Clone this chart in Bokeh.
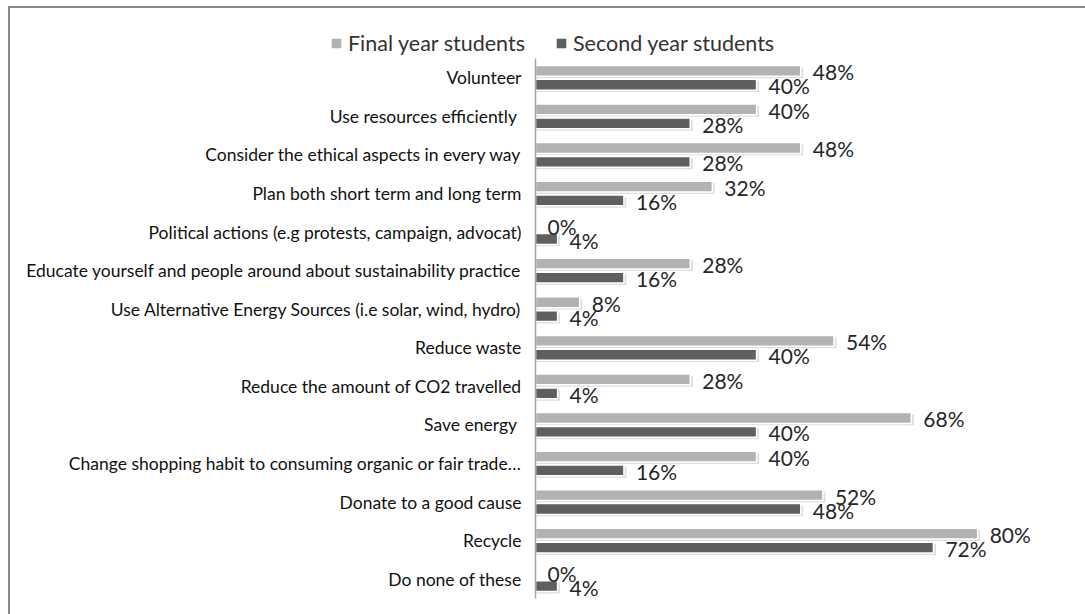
from bokeh.plotting import figure
from bokeh.layouts import column
from bokeh.models import ColumnDataSource, FactorRange, Range1d, Legend, LegendItem
from bokeh.transform import dodge
from bokeh.core.properties import value
from bokeh.embed import file_html
from bokeh.resources import INLINE

# ---- data (top to bottom as in the chart) ----
categories = [
    "Volunteer",
    "Use resources efficiently ",
    "Consider the ethical aspects in every way",
    "Plan both short term and long term",
    "Political actions (e.g protests, campaign, advocat)",
    "Educate yourself and people around about sustainability practice",
    "Use Alternative Energy Sources (i.e solar, wind, hydro)",
    "Reduce waste",
    "Reduce the amount of CO2 travelled",
    "Save energy ",
    "Change shopping habit to consuming organic or fair trade\u2026",
    "Donate to a good cause",
    "Recycle",
    "Do none of these",
]
final_year = [48, 40, 48, 32, 0, 28, 8, 54, 28, 68, 40, 52, 80, 0]
second_year = [40, 28, 28, 16, 4, 16, 4, 40, 4, 40, 16, 48, 72, 4]
series_names = ["Final year students", "Second year students"]

FINAL_COLOR = "#b2b2b2"
SECOND_COLOR = "#5f5f5f"
FONT = "Lato"

src = ColumnDataSource(dict(
    cat=categories,
    final=final_year,
    second=second_year,
    final_sh=[v + 0.45 if v > 0 else 0 for v in final_year],
    second_sh=[v + 0.45 if v > 0 else 0 for v in second_year],
    final_lbl=[f"{v}%" for v in final_year],
    second_lbl=[f"{v}%" for v in second_year],
))

# ---------------- main chart ----------------
p = figure(
    width=1075, height=556,
    y_range=FactorRange(factors=categories[::-1], range_padding=0),
    x_range=Range1d(0, 96.8),
    output_backend="svg", toolbar_location=None,
    min_border_left=525, min_border_right=15, min_border_top=0, min_border_bottom=16,
)
p.outline_line_color = None
p.xgrid.grid_line_color = None
p.ygrid.grid_line_color = None
p.xaxis.visible = False
p.background_fill_color = "white"
p.border_fill_color = "white"

ya = p.yaxis[0]
ya.axis_line_color = "#a6a6a6"
ya.axis_line_width = 1.5
ya.major_tick_line_color = None
ya.minor_tick_line_color = None
ya.major_tick_in = 0
ya.major_tick_out = 0
ya.major_label_standoff = 14
ya.major_label_text_font = FONT
ya.major_label_text_font_size = "17.5px"
ya.major_label_text_color = "#111111"

OFF = 0.18
H = 0.28

# soft shadows
p.hbar(y=dodge("cat", OFF - 0.05, range=p.y_range), left=0, right="final_sh", height=H,
       fill_color="#c8c8c8", fill_alpha=0.6, line_color=None, source=src)
p.hbar(y=dodge("cat", -OFF - 0.05, range=p.y_range), left=0, right="second_sh", height=H,
       fill_color="#c8c8c8", fill_alpha=0.6, line_color=None, source=src)

p.hbar(y=dodge("cat", OFF, range=p.y_range), left=0, right="final", height=H,
       fill_color=FINAL_COLOR, line_color="white", line_width=1.5, source=src)
p.hbar(y=dodge("cat", -OFF, range=p.y_range), left=0, right="second", height=H,
       fill_color=SECOND_COLOR, line_color="white", line_width=1.5, source=src)

for col, lbl, off in (("final", "final_lbl", OFF), ("second", "second_lbl", -OFF)):
    p.text(x=col, y=dodge("cat", off, range=p.y_range), text=lbl, source=src,
           x_offset=12, y_offset=1, text_align="left", text_baseline="middle",
           text_font=value(FONT), text_font_size="21px", text_color="#262626")

# ---------------- legend strip ----------------
lg = figure(
    width=1075, height=50,
    y_range=FactorRange(factors=categories[::-1]), x_range=Range1d(0, 100),
    output_backend="svg", toolbar_location=None,
    min_border_left=0, min_border_right=0, min_border_top=0, min_border_bottom=0,
)
lg.axis.visible = False
lg.grid.visible = False
lg.outline_line_color = None
lg.background_fill_color = "white"
lg.border_fill_color = "white"

for fig in (p, lg):
    if "frame_align" in fig.properties():
        fig.frame_align = False

k1 = lg.hbar(y="cat", right="final", left=0, height=0.5, fill_color=FINAL_COLOR,
             line_color=None, source=src, visible=False)
k2 = lg.hbar(y="cat", right="second", left=0, height=0.5, fill_color=SECOND_COLOR,
             line_color=None, source=src, visible=False)

legend = Legend(
    items=[LegendItem(label=series_names[0], renderers=[k1]),
           LegendItem(label=series_names[1], renderers=[k2])],
    orientation="horizontal", location=(320, 2),
    glyph_width=12, glyph_height=12, label_standoff=6, spacing=30,
    padding=0, margin=0, border_line_color=None, background_fill_alpha=0,
    inactive_fill_alpha=0,
    label_text_font=FONT, label_text_font_size="21.5px", label_text_color="#333333",
    label_height=24,
)
lg.add_layout(legend)

layout = column(lg, p, spacing=0, styles={
    "border-left": "2px solid #888888",
    "border-top": "2px solid #888888",
    "margin-left": "8px",
    "margin-top": "6px",
})

open("out.html", "w").write(file_html(layout, INLINE))
